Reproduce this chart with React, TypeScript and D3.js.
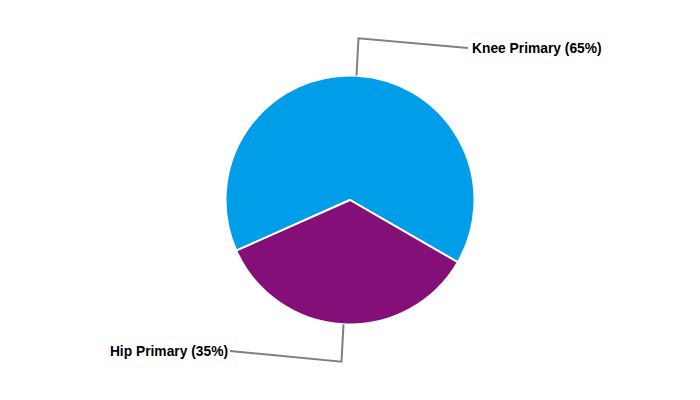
import React from "react";
import * as d3 from "d3";

const categories = ["Knee Primary", "Hip Primary"];
const values = [65, 35];
const colors = ["#009de9", "#840f78"];
const labelEnds: [number, number][] = [[468, 48], [230, 351]];

export default function App() {
  const width = 700, height = 400;
  const cx = 350, cy = 200, r = 124.5, rOut = 162;
  const start = (-114 * Math.PI) / 180;
  const pie = d3.pie<number>().sort(null).startAngle(start).endAngle(start + 2 * Math.PI);
  const arcs = pie(values);
  const arcGen = d3.arc<d3.PieArcDatum<number>>().innerRadius(0).outerRadius(r);
  return (
    <svg width={width} height={height} style={{ position: "absolute", left: 0, top: 0 }}>
      <g transform={`translate(${cx},${cy})`}>
        {arcs.map((a, i) => (
          <path key={i} d={arcGen(a) || ""} fill={colors[i]} stroke="#fff" strokeWidth={2} strokeLinejoin="round" />
        ))}
      </g>
      {arcs.map((a, i) => {
        const mid = (a.startAngle + a.endAngle) / 2;
        const x1 = cx + r * Math.sin(mid), y1 = cy - r * Math.cos(mid);
        const x2 = cx + rOut * Math.sin(mid), y2 = cy - rOut * Math.cos(mid);
        const [x3, y3] = labelEnds[i];
        const right = x3 > cx;
        const pct = Math.round((values[i] / d3.sum(values)) * 100);
        return (
          <g key={i}>
            <polyline points={`${x1},${y1} ${x2},${y2} ${x3},${y3}`} fill="none" stroke="#808080" strokeWidth={2} />
            <text
              x={right ? x3 + 4 : x3 - 2}
              y={y3}
              dy="0.35em"
              textAnchor={right ? "start" : "end"}
              fontFamily="Liberation Sans, Arial, sans-serif"
              fontWeight="bold"
              fontSize={13.8}
              fill="#000"
            >
              {`${categories[i]} (${pct}%)`}
            </text>
          </g>
        );
      })}
    </svg>
  );
}
